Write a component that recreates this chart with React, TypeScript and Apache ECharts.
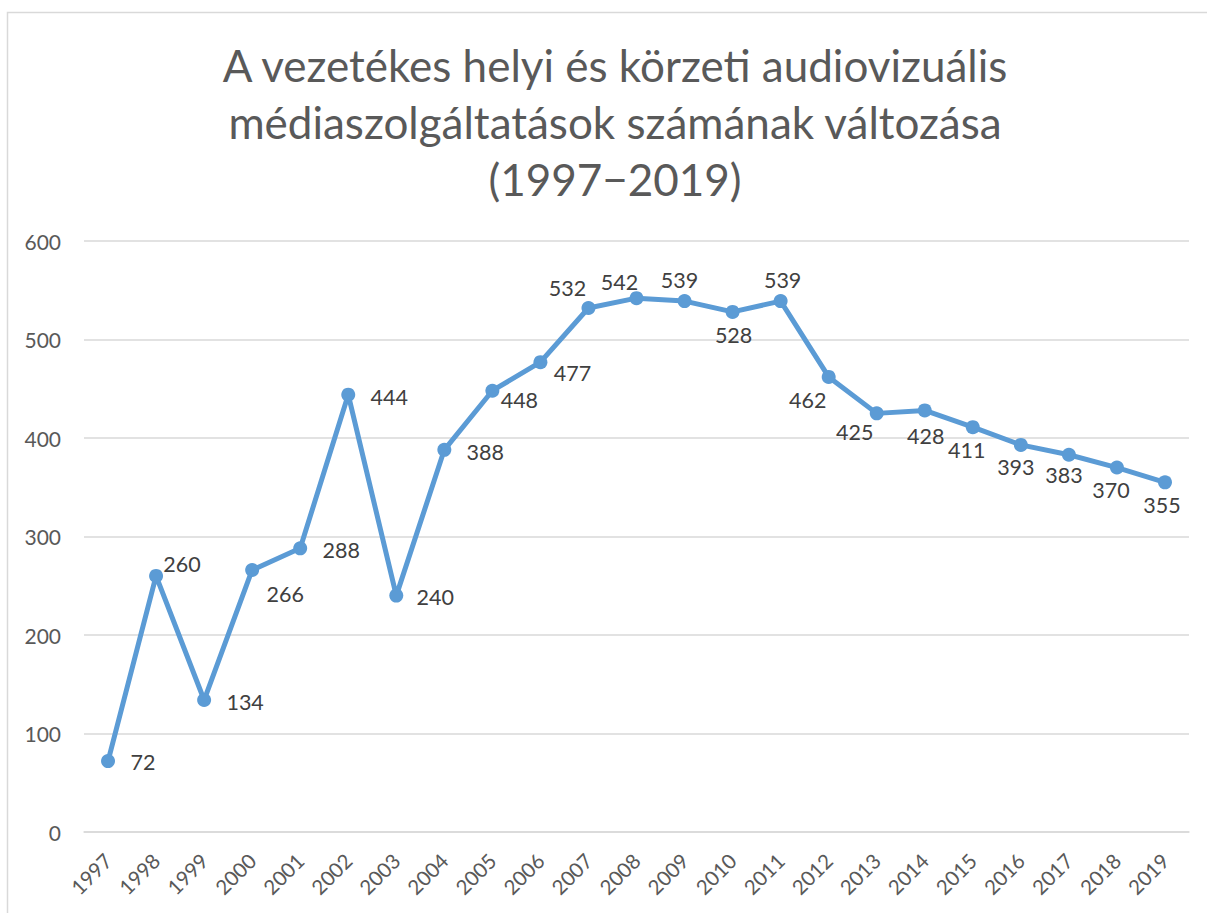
import React, { useEffect, useRef } from "react";
import * as echarts from "echarts";

const years = [
  "1997", "1998", "1999", "2000", "2001", "2002", "2003", "2004", "2005", "2006", "2007", "2008",
  "2009", "2010", "2011", "2012", "2013", "2014", "2015", "2016", "2017", "2018", "2019",
];
const counts = [72, 260, 134, 266, 288, 444, 240, 388, 448, 477, 532, 542, 539, 528, 539, 462, 425, 428, 411, 393, 383, 370, 355];
const yTicks = { min: 0, max: 600, interval: 100 };
const titleLines = [
  "A vezetékes helyi és körzeti audiovizuális",
  "médiaszolgáltatások számának változása",
  "(1997−2019)",
];

// label offsets relative to the point centre (style only)
const labelOffsets: [number, number][] = [
  [35, 1], [26, -12], [41, 2], [33, 24], [41, 2], [41, 2], [39, 1], [41, 2], [27, 9], [32, 11],
  [-21, -20], [-17, -16], [-5, -21], [1, 23], [2, -21], [-21, 23], [-22, 19], [1, 26], [-6, 23],
  [-5, 22], [-5, 20], [-6, 22], [-3, 23],
];

const FONT = "Lato, 'Noto Sans', sans-serif";

export default function App() {
  const ref = useRef<HTMLDivElement>(null);
  useEffect(() => {
    document.body.style.margin = "0";
    const chart = echarts.init(ref.current!, undefined, { renderer: "svg" });
    chart.setOption({
      animation: false,
      backgroundColor: "#ffffff",
      textStyle: { fontFamily: FONT },
      title: {
        text: titleLines.join("\n"),
        left: 610,
        textAlign: "center",
        top: 31,
        textStyle: { fontFamily: FONT, fontSize: 44, lineHeight: 57, fontWeight: "normal", color: "#595959" },
      },
      graphic: [
        {
          type: "rect",
          shape: { x: 7.5, y: 12.5, width: 1210, height: 920 },
          style: { fill: "none", stroke: "#D9D9D9", lineWidth: 1.5 },
          silent: true,
        },
      ],
      grid: { left: 84, right: 18, top: 241, height: 591 },
      xAxis: {
        type: "category",
        data: years,
        boundaryGap: true,
        axisLine: { show: true, lineStyle: { color: "#D9D9D9", width: 1.5 } },
        axisTick: { show: false },
        axisLabel: { rotate: 45, margin: 25, fontSize: 20.5, color: "#595959", fontFamily: FONT, interval: 0 },
      },
      yAxis: {
        type: "value",
        min: yTicks.min,
        max: yTicks.max,
        interval: yTicks.interval,
        axisLine: { show: false },
        axisTick: { show: false },
        axisLabel: { margin: 23, fontSize: 21, color: "#595959", fontFamily: FONT },
        splitLine: { lineStyle: { color: "#D9D9D9", width: 1.5 } },
      },
      series: [
        {
          type: "line",
          data: counts.map((v, i) => ({
            value: v,
            label: { show: true, position: "inside", offset: labelOffsets[i] },
          })),
          symbol: "circle",
          symbolSize: 14,
          lineStyle: { color: "#5B9BD5", width: 5 },
          itemStyle: { color: "#5B9BD5" },
          label: { show: true, fontSize: 21.5, color: "#404040", fontFamily: FONT },
        },
      ],
    });
    return () => chart.dispose();
  }, []);
  return <div ref={ref} style={{ width: 1207, height: 913 }} />;
}
